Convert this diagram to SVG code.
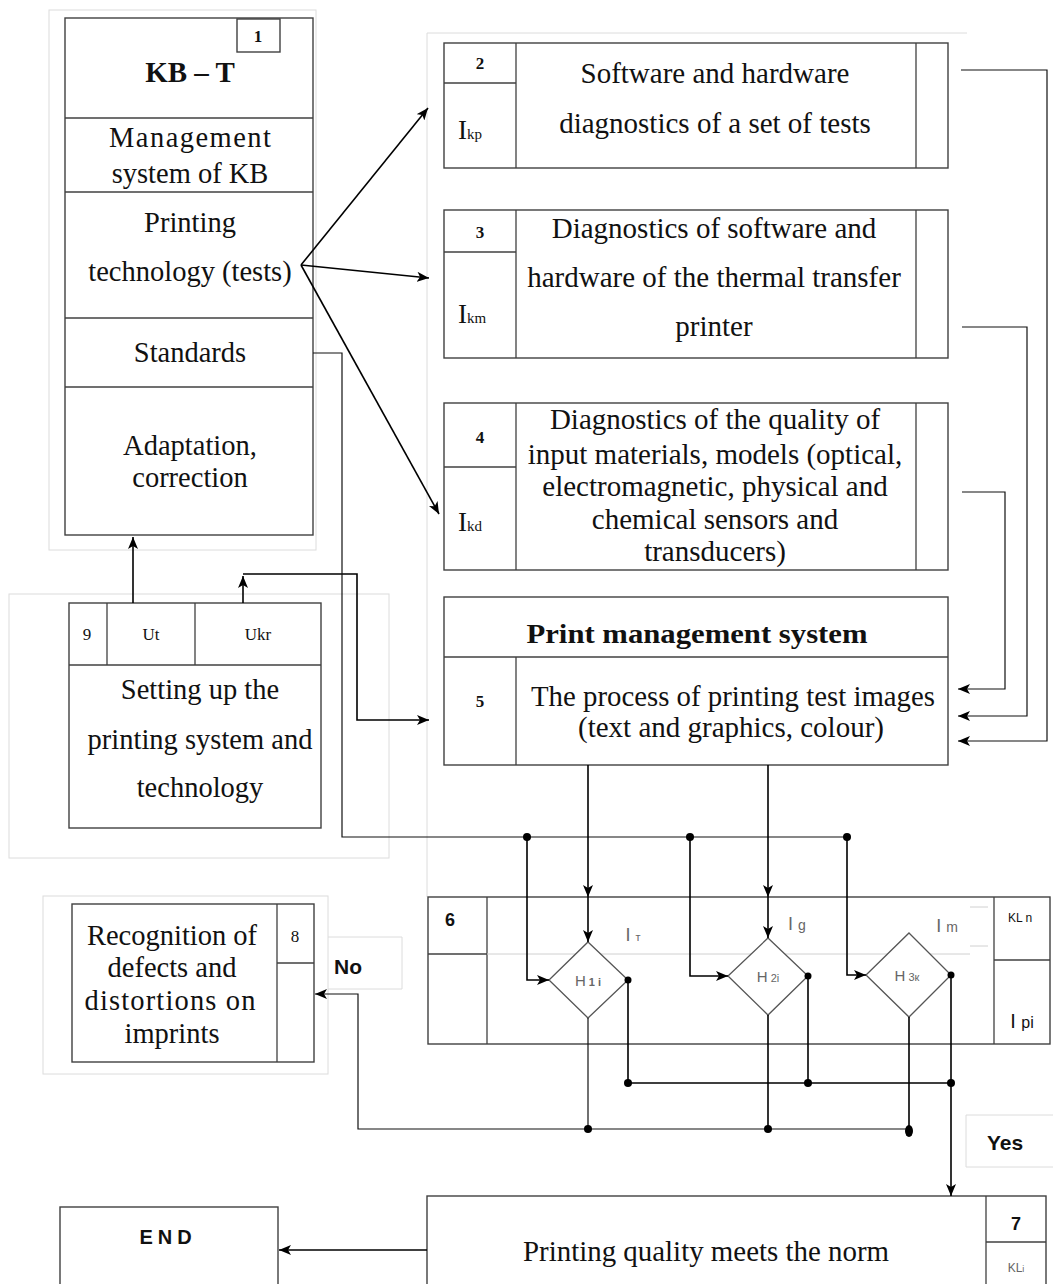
<svg xmlns="http://www.w3.org/2000/svg" width="1053" height="1284" viewBox="0 0 1053 1284">
<style>
.frame{fill:none;stroke:#dcdcdc;stroke-width:1}
.box{fill:none;stroke:#404040;stroke-width:1.4}
.ln{fill:none;stroke:#404040;stroke-width:1.3}
.faint{fill:none;stroke:#d0d0d0;stroke-width:1}
.c{fill:none;stroke:#000;stroke-width:1.6}
.ct{fill:none;stroke:#111;stroke-width:1.2}
.dia{fill:#fff;stroke:#555;stroke-width:1.3}
.s{font-family:"Liberation Serif","Times New Roman",serif;font-size:28.5px;fill:#111;text-anchor:middle}
.s29{font-family:"Liberation Serif","Times New Roman",serif;font-size:29px;fill:#111;text-anchor:middle}
.s27{font-family:"Liberation Serif","Times New Roman",serif;font-size:27px;fill:#111;text-anchor:middle}
.sb{font-family:"Liberation Serif","Times New Roman",serif;font-weight:bold;fill:#111;text-anchor:middle}
.sm{font-family:"Liberation Serif","Times New Roman",serif;font-size:17px;fill:#111;text-anchor:middle}
.a{font-family:"Liberation Sans",Arial,sans-serif;fill:#111;text-anchor:middle}
.g{font-family:"Liberation Sans",Arial,sans-serif;fill:#666;text-anchor:middle}
.dot{fill:#000}
</style>
<defs>
<marker id="arr" viewBox="0 0 12 10" refX="12" refY="5" markerWidth="12" markerHeight="10" markerUnits="userSpaceOnUse" orient="auto">
<path d="M0,0 L12,5 L0,10 L3,5 z" fill="#000"/>
</marker>
</defs>

<g id="frames">
<rect class="frame" x="49" y="10" width="267" height="540"/>
<path class="frame" d="M427,897 V33 H967"/>
<rect class="frame" x="9" y="594" width="380" height="264"/>
<rect class="frame" x="43" y="896" width="285" height="178"/>
<path class="frame" d="M328,937 H402 V989 H328"/>
<path class="frame" d="M1053,1115 H966 V1167 H1053"/>
</g>

<g id="node1">
<rect class="box" x="65" y="18" width="248" height="517"/>
<line class="ln" x1="65" y1="118" x2="313" y2="118"/>
<line class="ln" x1="65" y1="192" x2="313" y2="192"/>
<line class="ln" x1="65" y1="318" x2="313" y2="318"/>
<line class="ln" x1="65" y1="387" x2="313" y2="387"/>
<rect class="box" x="237" y="19" width="43" height="33"/>
<text class="sb" x="258" y="42" font-size="17">1</text>
<text class="sb" x="190" y="82" font-size="29">KB – T</text>
<text class="s" x="190" y="147" textLength="162" lengthAdjust="spacing">Management</text>
<text class="s" x="190" y="183">system of KB</text>
<text class="s" x="190" y="232">Printing</text>
<text class="s" x="190" y="281">technology (tests)</text>
<text class="s" x="190" y="362">Standards</text>
<text class="s" x="190" y="455">Adaptation,</text>
<text class="s" x="190" y="487">correction</text>
</g>

<g id="node2">
<rect class="box" x="444" y="43" width="504" height="125"/>
<line class="ln" x1="516" y1="43" x2="516" y2="168"/>
<line class="ln" x1="444" y1="83" x2="516" y2="83"/>
<line class="ln" x1="916" y1="43" x2="916" y2="168"/>
<text class="sb" x="480" y="69" font-size="17">2</text>
<text class="s27" x="470" y="139">I<tspan font-size="15">kp</tspan></text>
<text class="s29" x="715" y="83">Software and hardware</text>
<text class="s29" x="715" y="133">diagnostics of a set of tests</text>
</g>

<g id="node3">
<rect class="box" x="444" y="210" width="504" height="148"/>
<line class="ln" x1="516" y1="210" x2="516" y2="358"/>
<line class="ln" x1="444" y1="252" x2="516" y2="252"/>
<line class="ln" x1="916" y1="210" x2="916" y2="358"/>
<text class="sb" x="480" y="238" font-size="17">3</text>
<text class="s27" x="472" y="323">I<tspan font-size="15">km</tspan></text>
<text class="s29" x="714" y="238">Diagnostics of software and</text>
<text class="s29" x="714" y="287">hardware of the thermal transfer</text>
<text class="s29" x="714" y="336">printer</text>
</g>

<g id="node4">
<rect class="box" x="444" y="403" width="504" height="167"/>
<line class="ln" x1="516" y1="403" x2="516" y2="570"/>
<line class="ln" x1="444" y1="467" x2="516" y2="467"/>
<line class="ln" x1="916" y1="403" x2="916" y2="570"/>
<text class="sb" x="480" y="443" font-size="17">4</text>
<text class="s27" x="470" y="531">I<tspan font-size="15">kd</tspan></text>
<text class="s29" x="715" y="429">Diagnostics of the quality of</text>
<text class="s29" x="715" y="464">input materials, models (optical,</text>
<text class="s29" x="715" y="496">electromagnetic, physical and</text>
<text class="s29" x="715" y="529">chemical sensors and</text>
<text class="s29" x="715" y="561">transducers)</text>
</g>

<g id="node5">
<rect class="box" x="444" y="597" width="504" height="168"/>
<line class="ln" x1="444" y1="657" x2="948" y2="657"/>
<line class="ln" x1="516" y1="657" x2="516" y2="765"/>
<text class="sb" x="697" y="643" font-size="28" textLength="341" lengthAdjust="spacingAndGlyphs">Print management system</text>
<text class="sb" x="480" y="707" font-size="17">5</text>
<text class="s29" x="733" y="706" textLength="404" lengthAdjust="spacingAndGlyphs">The process of printing test images</text>
<text class="s29" x="731" y="737" textLength="306" lengthAdjust="spacingAndGlyphs">(text and graphics, colour)</text>
</g>

<g id="node9">
<rect class="box" x="69" y="603" width="252" height="225"/>
<line class="ln" x1="69" y1="665" x2="321" y2="665"/>
<line class="ln" x1="107" y1="603" x2="107" y2="665"/>
<line class="ln" x1="195" y1="603" x2="195" y2="665"/>
<text class="sm" x="87" y="640">9</text>
<text class="sm" x="151" y="640">Ut</text>
<text class="sm" x="258" y="640">Ukr</text>
<text class="s" x="200" y="699">Setting up the</text>
<text class="s" x="200" y="749">printing system and</text>
<text class="s" x="200" y="797">technology</text>
</g>

<g id="node6">
<rect class="box" x="428" y="897" width="622" height="147"/>
<line class="ln" x1="487" y1="897" x2="487" y2="1044"/>
<line class="ln" x1="428" y1="954" x2="487" y2="954"/>
<line class="faint" x1="487" y1="954" x2="970" y2="954"/>
<line class="faint" x1="970" y1="907" x2="988" y2="907"/>
<line class="faint" x1="970" y1="946" x2="988" y2="946"/>
<line class="ln" x1="994" y1="897" x2="994" y2="1044"/>
<line class="ln" x1="994" y1="960" x2="1050" y2="960"/>
<text class="a" x="450" y="926" font-size="18" font-weight="bold">6</text>
<text class="a" x="1020" y="922" font-size="12">KL n</text>
<text class="a" x="1022" y="1028" font-size="20">I <tspan font-size="16">pi</tspan></text>
<text class="g" x="633" y="941" font-size="18">I <tspan font-size="11">т</tspan></text>
<text class="g" x="797" y="930" font-size="18">I <tspan font-size="14">g</tspan></text>
<text class="g" x="947" y="932" font-size="18">I <tspan font-size="14">m</tspan></text>
</g>

<g id="diamond1">
<polygon class="dia" points="588,942 628,980 588,1018 549,980"/>
<text class="g" x="588" y="986" font-size="15">H<tspan font-size="11" font-weight="bold"> 1 i</tspan></text>
</g>
<g id="diamond2">
<polygon class="dia" points="768,938 808,976 768,1015 728,976"/>
<text class="g" x="768" y="982" font-size="15">H<tspan font-size="11"> 2i</tspan></text>
</g>
<g id="diamond3">
<polygon class="dia" points="909,933 951,975 909,1017 866,975"/>
<text class="g" x="907" y="981" font-size="15">H<tspan font-size="11"> 3к</tspan></text>
</g>

<g id="node8">
<rect class="box" x="72" y="904" width="242" height="158"/>
<line class="ln" x1="277" y1="904" x2="277" y2="1062"/>
<line class="ln" x1="277" y1="963" x2="314" y2="963"/>
<text class="sm" x="295" y="942">8</text>
<text class="s" x="172" y="945" font-size="29.5">Recognition of</text>
<text class="s" x="172" y="977" font-size="29.5">defects and</text>
<text class="s" x="170" y="1010" font-size="29.5" textLength="171" lengthAdjust="spacing">distortions on</text>
<text class="s" x="172" y="1043" font-size="29.5">imprints</text>
</g>

<g id="labelNo">
<text class="a" x="348" y="974" font-size="21" font-weight="bold">No</text>
</g>
<g id="labelYes">
<text class="a" x="1005" y="1150" font-size="21" font-weight="bold">Yes</text>
</g>

<g id="node7">
<rect class="box" x="427" y="1196" width="619" height="100"/>
<line class="ln" x1="986" y1="1196" x2="986" y2="1284"/>
<line class="ln" x1="986" y1="1242" x2="1046" y2="1242"/>
<text class="a" x="1016" y="1230" font-size="18" font-weight="bold">7</text>
<text class="g" x="1016" y="1272" font-size="12">KL<tspan font-size="9">i</tspan></text>
<text class="s" x="706" y="1261" font-size="30" textLength="366" lengthAdjust="spacingAndGlyphs">Printing quality meets the norm</text>
</g>

<g id="nodeEND">
<rect class="box" x="60" y="1207" width="218" height="90"/>
<text class="a" x="168" y="1244" font-size="20" font-weight="bold" letter-spacing="5">END</text>
</g>

<g id="connectors">
<path class="c" d="M301,265 L428,108" marker-end="url(#arr)"/>
<path class="c" d="M301,265 L429,278" marker-end="url(#arr)"/>
<path class="c" d="M301,265 L439,514" marker-end="url(#arr)"/>
<path class="c" d="M133,603 V537" marker-end="url(#arr)"/>
<path class="c" d="M243,603 V576" marker-end="url(#arr)"/>
<path class="c" d="M243,574 H357 V720 H429" marker-end="url(#arr)"/>
<path class="ct" d="M313,353 H342 V837 H847"/>
<path class="ct" d="M961,70 H1047 V741 H958" marker-end="url(#arr)"/>
<path class="ct" d="M962,327 H1027 V716 H958" marker-end="url(#arr)"/>
<path class="ct" d="M962,492 H1005 V689 H958" marker-end="url(#arr)"/>
<path class="c" d="M588,765 V897" marker-end="url(#arr)"/>
<path class="c" d="M588,897 V942" marker-end="url(#arr)"/>
<path class="c" d="M768,765 V897" marker-end="url(#arr)"/>
<path class="c" d="M768,897 V938" marker-end="url(#arr)"/>
<path class="c" d="M527,837 V980 H549" marker-end="url(#arr)"/>
<path class="c" d="M690,837 V976 H728" marker-end="url(#arr)"/>
<path class="c" d="M847,837 V975 H866" marker-end="url(#arr)"/>
<path class="c" d="M628,980 V1083 H951"/>
<path class="c" d="M808,976 V1083"/>
<path class="c" d="M951,975 V1196" marker-end="url(#arr)"/>
<path class="ct" d="M588,1018 V1129"/>
<path class="c" d="M768,1015 V1129"/>
<path class="c" d="M909,1017 V1129"/>
<path class="ct" d="M909,1129 H358 V994 H315" marker-end="url(#arr)"/>
<path class="c" d="M427,1250 H279" marker-end="url(#arr)"/>
<circle class="dot" cx="527" cy="837" r="4"/>
<circle class="dot" cx="690" cy="837" r="4"/>
<circle class="dot" cx="847" cy="837" r="4"/>
<circle class="dot" cx="628" cy="980" r="3.5"/>
<circle class="dot" cx="808" cy="976" r="3.5"/>
<circle class="dot" cx="951" cy="975" r="3.5"/>
<circle class="dot" cx="628" cy="1083" r="4"/>
<circle class="dot" cx="808" cy="1083" r="4"/>
<circle class="dot" cx="951" cy="1083" r="4"/>
<circle class="dot" cx="588" cy="1129" r="4"/>
<circle class="dot" cx="768" cy="1129" r="4"/>
<ellipse class="dot" cx="909" cy="1131" rx="4" ry="6"/>
</g>
</svg>
